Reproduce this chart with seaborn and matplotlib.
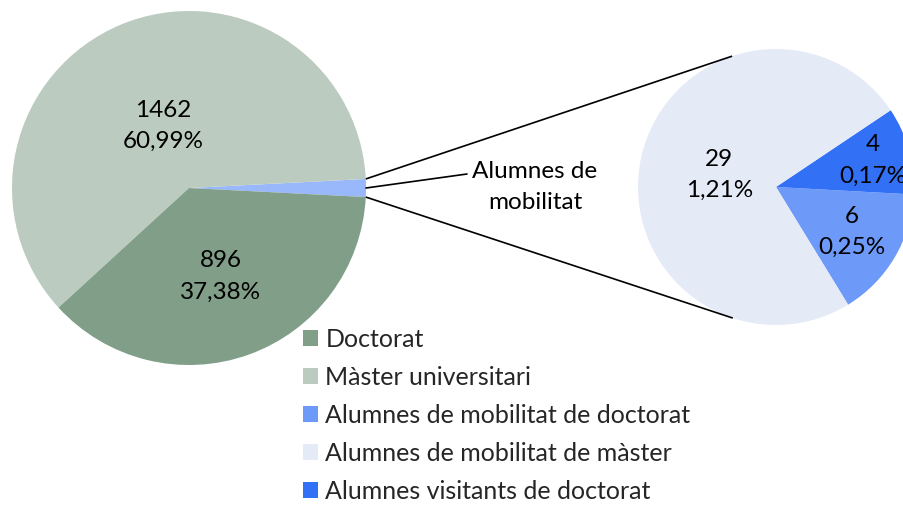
import numpy as np
import matplotlib
matplotlib.use("Agg")
from matplotlib import pyplot as plt
from matplotlib.patches import Patch
import seaborn as sns

# Main pie
main_labels = ["Doctorat", "Màster universitari", "Alumnes de mobilitat"]
main_values = [896, 1462, 39]
# Secondary pie (breakdown of "Alumnes de mobilitat")
sub_labels = ["Alumnes de mobilitat de doctorat", "Alumnes visitants de doctorat",
              "Alumnes de mobilitat de màster"]
sub_values = [6, 4, 29]

legend_order = ["Doctorat", "Màster universitari", "Alumnes de mobilitat de doctorat",
                "Alumnes de mobilitat de màster", "Alumnes visitants de doctorat"]

colors = {
    "Doctorat": "#809e88",
    "Màster universitari": "#bbcbc0",
    "Alumnes de mobilitat": "#99b7fb",
    "Alumnes de mobilitat de doctorat": "#6d9af8",
    "Alumnes visitants de doctorat": "#3270f5",
    "Alumnes de mobilitat de màster": "#e4eaf6",
}

sns.set_theme(style="white")
plt.rcParams["font.family"] = ["Lato", "DejaVu Sans"]

total = sum(main_values)
FS = 17.5
LFS = 18


def fmt(v):
    pct = f"{v / total * 100:.2f}".replace(".", ",")
    return f"{v}\n{pct}%"


W, H = 904, 505
fig = plt.figure(figsize=(W / 100, H / 100), dpi=100)
ax = fig.add_axes([0, 0, 1, 1])

# geometry in pixel units (y up)
c1 = np.array([189.0, H - 188.0])
r1 = 177.0
c2 = np.array([776.0, H - 187.0])
r2 = 138.0

# left pie: mobility slice centred on angle 0
mob_half = main_values[2] / total * 360 / 2
order1 = [2, 1, 0]
ax.pie([main_values[i] for i in order1],
       colors=[colors[main_labels[i]] for i in order1],
       startangle=-mob_half, counterclock=True, center=tuple(c1), radius=r1,
       wedgeprops=dict(linewidth=0))

# right pie
sub_start = -58.5
ax.pie(sub_values, colors=[colors[l] for l in sub_labels],
       startangle=sub_start, counterclock=True, center=tuple(c2), radius=r2,
       wedgeprops=dict(linewidth=0))

# labels on left pie
shares = np.array([main_values[i] for i in order1]) / total * 360
edges = -mob_half + np.concatenate([[0], np.cumsum(shares)])
mids = (edges[:-1] + edges[1:]) / 2
dist1 = {1: 0.38, 0: 0.53}
for k, i in enumerate(order1):
    if i not in dist1:
        continue
    a = np.deg2rad(mids[k])
    p = c1 + dist1[i] * r1 * np.array([np.cos(a), np.sin(a)])
    ax.text(p[0], p[1], fmt(main_values[i]), ha="center", va="center",
            fontsize=FS, linespacing=1.6, color="black")

# labels on right pie
shares2 = np.array(sub_values) / sum(sub_values) * 360
edges2 = sub_start + np.concatenate([[0], np.cumsum(shares2)])
mids2 = (edges2[:-1] + edges2[1:]) / 2
dist2 = [0.64, 0.73, 0.42]
for k, v in enumerate(sub_values):
    a = np.deg2rad(mids2[k])
    p = c2 + dist2[k] * r2 * np.array([np.cos(a), np.sin(a)])
    ax.text(p[0], p[1], fmt(v), ha="center", va="center",
            fontsize=FS, linespacing=1.6, color="black")

# connector lines: from mobility slice edges to tangent points of right pie
for sgn in (1, -1):
    a1 = np.deg2rad(sgn * mob_half)
    p1 = c1 + r1 * np.array([np.cos(a1), np.sin(a1)])
    v = p1 - c2
    dv = np.hypot(*v)
    b = np.arctan2(v[1], v[0])
    a2 = b - sgn * np.arccos(r2 / dv)
    p2 = c2 + r2 * np.array([np.cos(a2), np.sin(a2)])
    ax.plot([p1[0], p2[0]], [p1[1], p2[1]], color="black", lw=1.2,
            solid_capstyle="butt")

# leader line for "Alumnes de mobilitat"
p_edge = c1 + np.array([r1, 0])
ax.plot([p_edge[0], 467], [p_edge[1], H - 174], color="black", lw=1.2)
ax.text(535, H - 187, "Alumnes de\nmobilitat", ha="center", va="center",
        fontsize=FS, linespacing=1.6, color="black")

ax.set_xlim(0, W)
ax.set_ylim(0, H)
ax.set_aspect("equal")
ax.axis("off")

handles = [Patch(facecolor=colors[l], edgecolor="none", label=l) for l in legend_order]
fig.legend(handles=handles, loc="upper left", bbox_to_anchor=(303 / W, 1 - 328 / H),
           frameon=False, fontsize=LFS, handlelength=0.6, handleheight=0.6,
           handletextpad=0.3, labelspacing=0.6, borderpad=0, borderaxespad=0)

plt.savefig("out.png", dpi=100)
